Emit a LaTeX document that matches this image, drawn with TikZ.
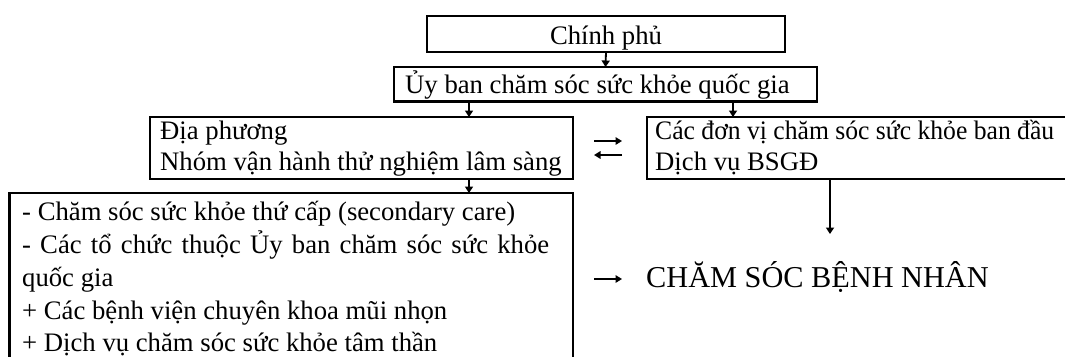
\documentclass[tikz,border=0pt]{standalone}
\usepackage{graphicx}
\usepackage{fontspec}
\setmainfont{Liberation Serif}
\usetikzlibrary{arrows.meta}
\begin{document}
\begin{tikzpicture}[x=1pt,y=-1pt,
  box/.style={draw, line width=2.2pt, inner sep=0pt, outer sep=0pt, anchor=north west},
  txt/.style={anchor=base west, inner sep=0pt, font=\fontsize{26.7}{33}\selectfont},
  ctxt/.style={anchor=base, inner sep=0pt, font=\fontsize{26.7}{33}\selectfont},
  bigtxt/.style={anchor=base west, inner sep=0pt, font=\fontsize{30.3}{36}\selectfont},
  arr/.style={line width=1.8pt, -{Triangle[width=8pt,length=6.5pt]}},
  thinarr/.style={line width=1.6pt, -{Triangle[width=7.5pt,length=6.5pt]}}
]
\useasboundingbox (0,0) rectangle (1065,356);
\clip (0,0) rectangle (1065,356);
% boxes
\node[box, minimum width=358pt, minimum height=36pt] (gov) at (427,16) {};
\node[box, minimum width=423pt, minimum height=34.5pt] (nhc) at (394,67) {};
\node[box, minimum width=423pt, minimum height=62pt] (loc) at (150,117) {};
\node[box, minimum width=450pt, minimum height=62pt] (prim) at (647,117) {};
\node[box, minimum width=563.5pt, minimum height=220pt] (sec) at (9.5,193) {};
% texts
\node[ctxt] (govt) at (606,44) {Chính phủ};
\node[txt] (nhct) at (405,93) {Ủy ban chăm sóc sức khỏe quốc gia};
\node[txt] (loct1) at (160,139) {Địa phương};
\node[txt] (loct2) at (160,170) {Nhóm vận hành thử nghiệm lâm sàng};
\node[txt] (primt1) at (655,139) {\scalebox{0.96}[1]{Các đơn vị chăm sóc sức khỏe ban đầu}};
\node[txt] (primt2) at (655,170) {Dịch vụ BSGĐ};
\node[txt] (sect1) at (22,220) {- Chăm sóc sức khỏe thứ cấp (secondary care)};
\node[txt] (sect2) at (22,253) {\makebox[527pt][s]{- Các tổ chức thuộc Ủy ban chăm sóc sức khỏe}};
\node[txt] (sect3) at (22,286) {quốc gia};
\node[txt] (sect4) at (22,319) {+ Các bệnh viện chuyên khoa mũi nhọn};
\node[txt] (sect5) at (22,351) {+ Dịch vụ chăm sóc sức khỏe tâm thần};
\node[bigtxt] (care) at (646,287) {CHĂM SÓC BỆNH NHÂN};
% helper coordinates
\coordinate (xl) at (469,0);
\coordinate (xr) at (733,0);
\coordinate (xp) at (830,0);
\coordinate (pend) at (830,234);
\coordinate (ea1) at (594,141);
\coordinate (ea2) at (622,141);
\coordinate (eb1) at (622,155);
\coordinate (eb2) at (594,155);
\coordinate (ca1) at (594,279);
\coordinate (ca2) at (622,279);
% connectors
\draw[arr] (gov.south) -- (nhc.north);
\draw[arr] (xl |- nhc.south) -- (xl |- loc.north);
\draw[arr] (xr |- nhc.south) -- (xr |- prim.north);
\draw[arr] (xl |- loc.south) -- (xl |- sec.north);
\draw[arr] (xp |- prim.south) -- (pend);
\draw[thinarr] (ea1) -- (ea2);
\draw[thinarr] (eb1) -- (eb2);
\draw[thinarr] (ca1) -- (ca2);
\end{tikzpicture}
\end{document}
